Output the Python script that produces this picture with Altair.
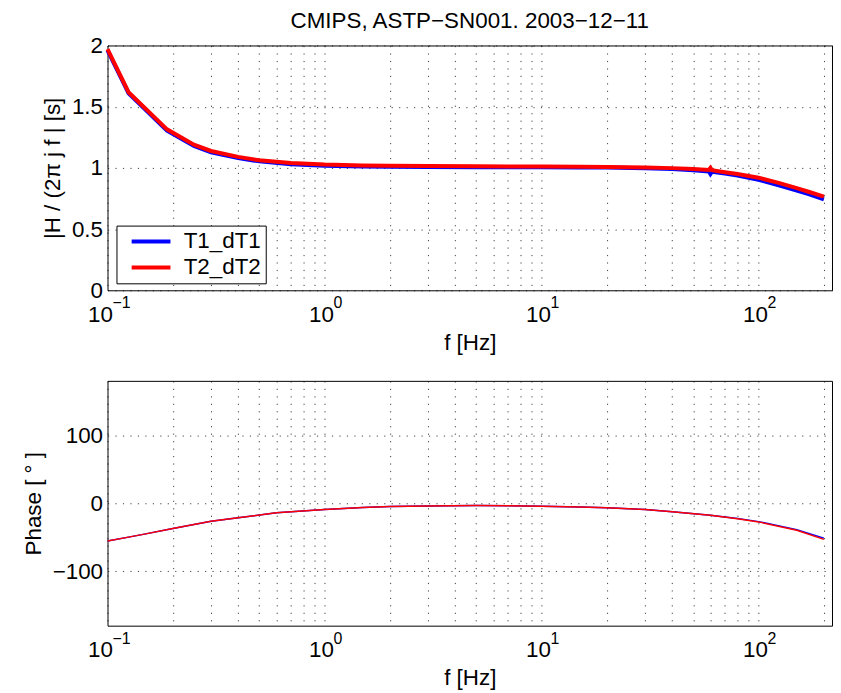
import altair as alt
import pandas as pd

FONT = "Liberation Sans"
FS = 22.5
TITLE = "CMIPS, ASTP\u2212SN001. 2003\u221212\u221211"
SERIES = ["T1_dT1", "T2_dT2"]
COLORS = ["#0000ff", "#ff0000"]

# magnitude |H/(2 pi j f)| [s]
freq_mag = [0.1, 0.125, 0.188, 0.25, 0.3, 0.4, 0.5, 0.7, 1.0, 1.5,
            2, 3, 5, 7, 10, 15, 20, 30, 40, 50,
            59, 60, 61, 70, 80, 100, 125, 150, 170, 200]
mag_t1 = [1.96, 1.61, 1.305, 1.18, 1.128, 1.08, 1.053, 1.03, 1.018, 1.012,
          1.009, 1.007, 1.006, 1.005, 1.005, 1.004, 1.003, 0.997, 0.99, 0.98,
          0.971, 0.95, 0.969, 0.953, 0.937, 0.903, 0.855, 0.815, 0.785, 0.742]
mag_t2 = [1.97, 1.618, 1.315, 1.19, 1.138, 1.09, 1.062, 1.04, 1.027, 1.02,
          1.017, 1.015, 1.013, 1.012, 1.011, 1.01, 1.007, 1.003, 0.998, 0.99,
          0.983, 1.0, 0.981, 0.965, 0.95, 0.92, 0.875, 0.835, 0.805, 0.765]

# phase [deg]
freq_ph = [0.1, 0.125, 0.15, 0.2, 0.3, 0.4, 0.6, 1.0, 1.5, 2,
           3, 5, 7, 10, 15, 20, 30, 40, 60, 80,
           100, 150, 200]
ph_t1 = [-55.6, -49.8, -45, -37, -26.5, -21.4, -14, -9.2, -6.4, -4.9,
         -3.9, -3.4, -3.6, -4.3, -5.5, -6.7, -9.2, -12.5, -17.6, -22.4,
         -27, -39, -51.3]
ph_t2 = [-55.6, -49.8, -45, -37, -26.5, -21.4, -14, -9.2, -6.4, -4.9,
         -3.9, -3.4, -3.6, -4.3, -5.5, -6.7, -9.2, -12.6, -17.8, -22.7,
         -27.4, -39.8, -53.1]

x_grid = [0.1, 0.2, 0.3, 0.4, 0.5, 0.6, 0.7, 0.8, 0.9,
          1, 2, 3, 4, 5, 6, 7, 8, 9,
          10, 20, 30, 40, 50, 60, 70, 80, 90,
          100, 200]
decades = [0.1, 1, 10, 100]
exponents = ["\u22121", "0", "1", "2"]
mag_ticks = [0, 0.5, 1, 1.5, 2]
ph_ticks = [-100, 0, 100]

W, H = 728, 246

mag_df = pd.DataFrame({
    "f": freq_mag * 2,
    "v": mag_t1 + mag_t2,
    "s": [SERIES[0]] * len(freq_mag) + [SERIES[1]] * len(freq_mag),
})
ph_df = pd.DataFrame({
    "f": freq_ph * 2,
    "v": ph_t1 + ph_t2,
    "s": [SERIES[0]] * len(freq_ph) + [SERIES[1]] * len(freq_ph),
})
exp_df = pd.DataFrame({"f": decades, "e": exponents})

xscale = alt.Scale(type="log", domain=[0.1, 218], nice=False)
xaxis = alt.Axis(
    values=x_grid,
    labelExpr="(datum.value==0.1||datum.value==1||datum.value==10||datum.value==100) ? '10' : ''",
    labelAlign="right",
    labelOffset={"condition": {"test": "datum.value < 0.5", "value": 5}, "value": 9},
    labelPadding=13,
    title="f  [Hz]",
    titlePadding=6,
)


def xenc():
    return alt.X("f:Q", scale=xscale, axis=xaxis)


def exp_layers():
    first = alt.Chart(exp_df).transform_filter("datum.f < 0.5").mark_text(
        align="left", baseline="top", dx=5, fontSize=16, font=FONT, color="black"
    ).encode(x=xenc(), y=alt.value(H + 5), text="e:N")
    rest = alt.Chart(exp_df).transform_filter("datum.f >= 0.5").mark_text(
        align="left", baseline="top", dx=9, fontSize=16, font=FONT, color="black"
    ).encode(x=xenc(), y=alt.value(H + 5), text="e:N")
    return [first, rest]


color_scale = alt.Scale(domain=SERIES, range=COLORS)

mag_lines = alt.Chart(mag_df).mark_line(strokeWidth=4).encode(
    x=xenc(),
    y=alt.Y("v:Q", scale=alt.Scale(domain=[0, 2], nice=False),
            axis=alt.Axis(values=mag_ticks, format="~g",
                          title="|H / (2\u03c0 j f | [s]", titlePadding=7)),
    color=alt.Color("s:N", scale=color_scale, legend=alt.Legend(
        orient="none", legendX=9, legendY=181, title=None,
        symbolType="M-2,0H2", symbolStrokeWidth=4, symbolSize=380,
        labelFontSize=FS, labelFont=FONT, labelColor="black",
        labelExpr="datum.label + '   '",
        padding=4, symbolOffset=18.75, labelOffset=20.75, rowPadding=2,
        strokeColor="black", fillColor="white", cornerRadius=0,
    )),
)

top = alt.layer(mag_lines, *exp_layers()).properties(
    width=W, height=H,
    title=alt.TitleParams(TITLE, fontSize=FS, fontWeight="normal", font=FONT,
                          offset=2, anchor="middle", color="black"),
)

ph_lines = alt.Chart(ph_df).mark_line(strokeWidth=1.5).encode(
    x=xenc(),
    y=alt.Y("v:Q", scale=alt.Scale(domain=[-180, 180], nice=False),
            axis=alt.Axis(values=ph_ticks, format="d",
                          title="Phase [ \u00b0 ]", titlePadding=7)),
    color=alt.Color("s:N", scale=color_scale, legend=None),
)

bottom = alt.layer(ph_lines, *exp_layers()).properties(width=W, height=H)

chart = alt.vconcat(top, bottom, spacing=25).resolve_scale(
    color="independent"
).properties(
    padding={"left": 13, "top": 0, "right": 0, "bottom": 0}
).configure_view(
    stroke="black", strokeWidth=1
).configure_axis(
    labelFont=FONT, titleFont=FONT, labelFontSize=FS, titleFontSize=FS,
    labelColor="black", titleColor="black", titleFontWeight="normal",
    grid=True, gridColor="#000000", gridDash=[1.2, 6.3], gridOpacity=0.75,
    gridWidth=1, domain=False, ticks=False, labelPadding=5,
)

chart.save("out.html", embed_options={"renderer": "svg", "actions": False})
